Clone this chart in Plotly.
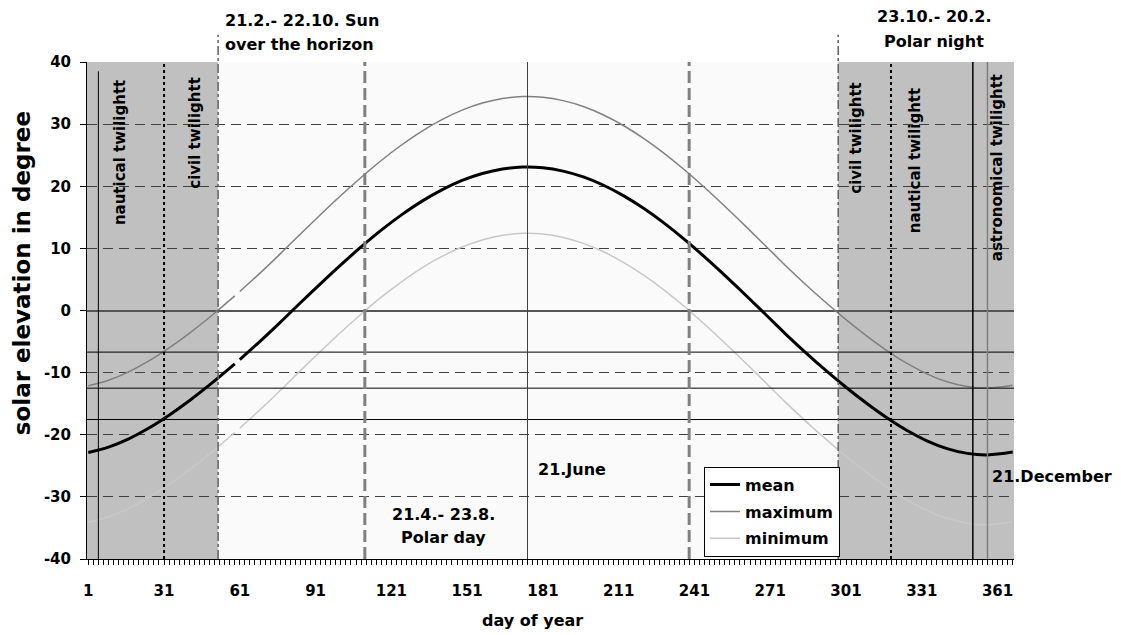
import plotly.graph_objects as go

# ---------------- data ----------------
day = [1, 9, 17, 25, 33, 41, 50, 59, 60, 61,
       69, 77, 85, 93, 101, 109, 117, 125, 133, 141,
       149, 157, 165, 173, 181, 189, 197, 205, 213, 221,
       229, 237, 245, 253, 261, 269, 277, 285, 293, 301,
       309, 317, 325, 333, 341, 349, 357, 367]
mean = [-22.87, -22.00, -20.66, -18.92, -16.85, -14.53, -11.66, -8.59, None, -7.89,
        -4.97, -1.91, 1.25, 4.34, 7.35, 10.23, 12.93, 15.39, 17.57, 19.42,
        20.93, 22.05, 22.78, 23.09, 22.98, 22.44, 21.50, 20.16, 18.45, 16.41,
        14.06, 11.45, 8.63, 5.66, 2.58, -0.57, -3.75, -6.77, -9.64, -12.36,
        -14.90, -17.23, -19.28, -20.97, -22.23, -23.00, -23.24, -22.79]
maximum = [-12.12, -11.24, -9.88, -8.12, -6.02, -3.67, -0.76, 2.35, None, 3.06,
           6.02, 9.12, 12.32, 15.45, 18.50, 21.41, 24.15, 26.64, 28.85, 30.72,
           32.25, 33.39, 34.13, 34.44, 34.33, 33.78, 32.83, 31.47, 29.74, 27.67,
           25.29, 22.65, 19.79, 16.78, 13.66, 10.47, 7.25, 4.19, 1.28, -1.47,
           -4.04, -6.40, -8.48, -10.19, -11.47, -12.25, -12.49, -12.04]
minimum = [-34.09, -33.21, -31.86, -30.10, -28.00, -25.65, -22.75, -19.64, None, -18.93,
           -15.98, -12.88, -9.68, -6.56, -3.51, -0.60, 2.14, 4.62, 6.83, 8.70,
           10.23, 11.36, 12.10, 12.42, 12.31, 11.76, 10.81, 9.45, 7.72, 5.66,
           3.28, 0.64, -2.22, -5.22, -8.34, -11.53, -14.75, -17.80, -20.71, -23.46,
           -26.03, -28.39, -30.46, -32.17, -33.45, -34.23, -34.47, -34.01]

x_ticks = [1, 31, 61, 91, 121, 151, 181, 211, 241, 271, 301, 331, 361]
y_ticks = [-40, -30, -20, -10, 0, 10, 20, 30, 40]

sun_edges = [52.4, 297.9]          # 21.2. and 22.10. (sun over the horizon)
polar_day_edges = [110.5, 238.9]   # 21.4. and 23.8.
summer_solstice = 174.9
dotted_days = [31.0, 318.8]
solid_days = [5.0, 351.2]
winter_solstice = 357.0
twilight_levels = [-6.7, -12.5, -17.55]
x_range = [0.5, 367.5]
y_range = [-40, 40]

FONT = "DejaVu Sans"

fig = go.Figure()
fig.add_trace(go.Scatter(x=day, y=mean, name="mean", mode="lines",
                         line=dict(color="black", width=3, shape="spline"), legendgroup="a"))
fig.add_trace(go.Scatter(x=day, y=maximum, name="maximum", mode="lines",
                         line=dict(color="#808080", width=1.5, shape="spline"), legendgroup="b"))
fig.add_trace(go.Scatter(x=day, y=minimum, name="minimum", mode="lines",
                         line=dict(color="#c8c8c8", width=1.5, shape="spline"), legendgroup="c"))

shapes = []
# shaded (twilight / polar night) parts of the year
shapes.append(dict(type="rect", xref="x", yref="y", x0=x_range[0], x1=sun_edges[0],
                   y0=y_range[0], y1=y_range[1], fillcolor="#c0c0c0", line_width=0, layer="below"))
shapes.append(dict(type="rect", xref="x", yref="y", x0=sun_edges[1], x1=x_range[1],
                   y0=y_range[0], y1=y_range[1], fillcolor="#c0c0c0", line_width=0, layer="below"))
# twilight levels
for lv in twilight_levels:
    shapes.append(dict(type="line", xref="paper", yref="y", x0=0, x1=1, y0=lv, y1=lv,
                       line=dict(color="black", width=1)))
# vertical markers
for d in sun_edges:
    shapes.append(dict(type="line", xref="x", yref="paper", x0=d, x1=d, y0=0, y1=1.055,
                       line=dict(color="#606060", width=1.5, dash="dashdot")))
for d in polar_day_edges:
    shapes.append(dict(type="line", xref="x", yref="y", x0=d, x1=d, y0=y_range[0], y1=y_range[1],
                       line=dict(color="#808080", width=3, dash="12px,5px")))
shapes.append(dict(type="line", xref="x", yref="y", x0=summer_solstice, x1=summer_solstice,
                   y0=y_range[0], y1=y_range[1], line=dict(color="#404040", width=1)))
for d in dotted_days:
    shapes.append(dict(type="line", xref="x", yref="y", x0=d, x1=d, y0=y_range[0], y1=y_range[1],
                       line=dict(color="black", width=2, dash="dot")))
shapes.append(dict(type="line", xref="x", yref="y", x0=solid_days[0], x1=solid_days[0],
                   y0=y_range[0], y1=38.5, line=dict(color="black", width=1)))
shapes.append(dict(type="line", xref="x", yref="y", x0=solid_days[1], x1=solid_days[1],
                   y0=y_range[0], y1=y_range[1], line=dict(color="black", width=1.5)))
shapes.append(dict(type="line", xref="x", yref="y", x0=winter_solstice, x1=winter_solstice,
                   y0=y_range[0], y1=y_range[1], line=dict(color="#808080", width=1.5)))

ann = []
def txt(text, x, y, xa="center", ya="middle", angle=0, size=16):
    ann.append(dict(text=text, x=x, y=y, xref="paper", yref="paper", xanchor=xa, yanchor=ya,
                    showarrow=False, textangle=angle,
                    font=dict(family=FONT, size=size, color="black", weight="bold")))

txt("21.2.- 22.10. Sun", 0.1467, 1.0831, xa="left")
txt("over the horizon", 0.1467, 1.0348, xa="left")
txt("23.10.- 20.2.", 0.9137, 1.0911)
txt("Polar night", 0.9137, 1.0404)
txt("21.4.- 23.8.", 0.3846, 0.0892)
txt("Polar day", 0.3846, 0.0429)
txt("21.June", 0.4840, 0.1807, xa="left")
txt("21.December", 0.9740, 0.1666, xa="left")
txt("nautical twilightt", 0.0355, 0.9684, ya="top", angle=-90, size=15)
txt("civil twilightt", 0.1165, 0.9744, ya="top", angle=-90, size=15)
txt("civil twilightt", 0.8296, 0.9644, ya="top", angle=-90, size=15)
txt("nautical twilightt", 0.8932, 0.9523, ya="top", angle=-90, size=15)
txt("astronomical twilightt", 0.9817, 0.9785, ya="top", angle=-90, size=15)
# axis titles
txt("solar elevation in degree", -0.0701, 0.575, angle=-90, size=23)
txt("day of year", 0.481, -0.124, size=16)

fig.update_layout(
    width=1121, height=635,
    margin=dict(l=87, r=107, t=62, b=76),
    paper_bgcolor="white", plot_bgcolor="#fafafa",
    font=dict(family=FONT, size=15, color="black", weight="bold"),
    shapes=shapes, annotations=ann,
    legend=dict(x=0.6656, y=0.1857, xanchor="left", yanchor="top",
                bgcolor="white", bordercolor="black", borderwidth=1,
                font=dict(family=FONT, size=16, color="black", weight="bold"),
                tracegroupgap=3, itemwidth=30),
    xaxis=dict(range=x_range, tickmode="array", tickvals=x_ticks, ticktext=[str(t) for t in x_ticks],
               showgrid=False, zeroline=False, showline=True, linecolor="black", linewidth=1,
               ticks="outside", ticklen=5, tickcolor="black", ticklabelstandoff=13,
               minor=dict(ticks="outside", ticklen=5, dtick=2, tick0=1, tickcolor="black", showgrid=False)),
    yaxis=dict(range=y_range, tickmode="array", tickvals=y_ticks, ticktext=[str(t) for t in y_ticks],
               showgrid=True, gridcolor="#404040", gridwidth=1, griddash="10px,6px",
               zeroline=True, zerolinecolor="#555555", zerolinewidth=1.5,
               showline=True, linecolor="black", linewidth=1,
               ticks="outside", ticklen=6, tickcolor="black", ticklabelstandoff=6),
)

fig.write_html("out.html")
